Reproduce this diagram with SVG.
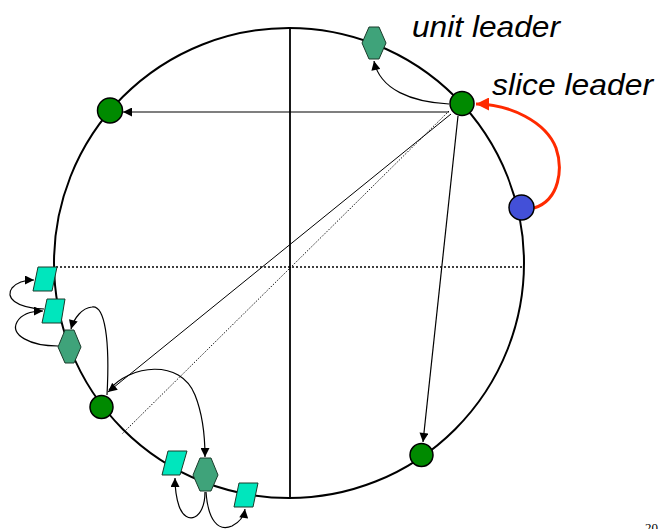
<svg xmlns="http://www.w3.org/2000/svg" width="659" height="529" viewBox="0 0 659 529">
<style>
.ring{fill:none;stroke:#000;stroke-width:2}
.axis{fill:none;stroke:#000;stroke-width:1.8}
.dot{fill:none;stroke:#000;stroke-width:1.5;stroke-dasharray:2,2}
.con{fill:none;stroke:#000;stroke-width:1.2}
.chord{fill:none;stroke:#000;stroke-width:1}
.dchord{fill:none;stroke:#000;stroke-width:0.9;stroke-dasharray:1.5,1.5}
.red{fill:none;stroke:#ff2a00;stroke-width:3}
.gc{fill:#008a00;stroke:#000;stroke-width:1.5}
.bc{fill:#4350d8;stroke:#000;stroke-width:1.5}
.hex{fill:#3fa37a;stroke:#1a3a2a;stroke-width:1}
.par{fill:#00e6bd;stroke:#1a3a2a;stroke-width:1}
.lbl{font-family:"Liberation Sans",Arial,sans-serif;font-style:italic;font-size:29px;fill:#000}
</style>
<defs>
<marker id="ah" viewBox="0 0 10 10" refX="10" refY="5" markerWidth="10" markerHeight="9" markerUnits="userSpaceOnUse" orient="auto">
<path d="M0,0 L10,5 L0,10 z" fill="#000"/>
</marker>
<marker id="ahr" viewBox="0 0 10 10" refX="10" refY="5" markerWidth="15" markerHeight="13" markerUnits="userSpaceOnUse" orient="auto">
<path d="M0,0 L10,5 L0,10 z" fill="#ff2a00"/>
</marker>
</defs>
<g id="ring">
<ellipse class="ring" cx="289" cy="263" rx="235" ry="235"/>
<line class="axis" x1="290" y1="28" x2="290" y2="498"/>
<line class="dot" x1="56" y1="267" x2="523" y2="267"/>
</g>
<g id="connectors">
<line class="dchord" x1="449" y1="111" x2="122" y2="434"/>
<line class="chord" x1="451" y1="114" x2="108" y2="392" marker-end="url(#ah)"/>
<line class="con" x1="449" y1="112" x2="123" y2="112" marker-end="url(#ah)"/>
<line class="con" x1="458" y1="116" x2="423" y2="442" marker-end="url(#ah)"/>
<path class="con" d="M449,104 C412,102 380,90 374,61" marker-end="url(#ah)"/>
<path class="red" d="M534,208 C560,200 563,168 556,148 C546,122 510,104 476,104" marker-end="url(#ahr)"/>
<path class="con" d="M107,395 C110,340 105,305 92,307 C82,308 74,318 71,329" marker-end="url(#ah)"/>
<path class="con" d="M109,390 C130,365 180,358 195,395 C203,415 205,440 205,457" marker-end="url(#ah)"/>
<path class="con" d="M58,346 C30,346 10,335 17,322 C22,313 33,311 43,311" marker-end="url(#ah)"/>
<path class="con" d="M44,309 C15,308 5,297 12,288 C17,282 25,280 34,280" marker-end="url(#ah)"/>
<path class="con" d="M205,492 C205,520 186,526 179,506 C176,497 175,488 175,478" marker-end="url(#ah)"/>
<path class="con" d="M206,492 C208,520 218,532 232,526 C240,522 244,516 245,509" marker-end="url(#ah)"/>
</g>
<g id="slice-leader"><circle class="gc" cx="462" cy="103.5" r="12"/></g>
<g id="unit-leader"><polygon class="hex" points="362,43 369,27 379,27 386,43 379,59 369,59"/></g>
<g id="node-left-top"><circle class="gc" cx="110" cy="110.5" r="12.5"/></g>
<g id="node-blue"><circle class="bc" cx="521.5" cy="207.5" r="12.5"/></g>
<g id="node-bottom-right"><circle class="gc" cx="421.5" cy="455" r="11.5"/></g>
<g id="node-left-bottom"><circle class="gc" cx="101.5" cy="407" r="11.5"/></g>
<g id="para-1"><polygon class="par" points="38,267 57,267 52,291 33,291"/></g>
<g id="para-2"><polygon class="par" points="47,299 65,299 61,323 42,323"/></g>
<g id="hex-left"><polygon class="hex" points="58,347 65,330 74,330 81,347 74,363 65,363"/></g>
<g id="para-3"><polygon class="par" points="168,451 187,451 180,475 162,475"/></g>
<g id="hex-bottom"><polygon class="hex" points="193,475 200,458 211,458 218,475 211,491 200,491"/></g>
<g id="para-4"><polygon class="par" points="239,483 258,483 253,507 234,507"/></g>
<g id="labels">
<text class="lbl" x="412" y="37" textLength="148" lengthAdjust="spacingAndGlyphs">unit leader</text>
<text class="lbl" x="492" y="95" textLength="161" lengthAdjust="spacingAndGlyphs">slice leader</text>
<text x="645" y="532" font-family="Liberation Serif,serif" font-size="13" fill="#000">20</text>
</g>
</svg>
